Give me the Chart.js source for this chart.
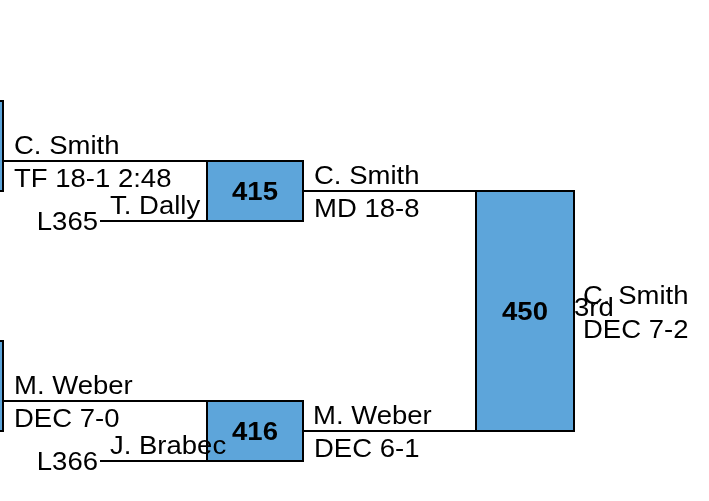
<!DOCTYPE html>
<html>
<head>
<meta charset="utf-8">
<script src="https://cdn.jsdelivr.net/npm/chart.js@4/dist/chart.umd.min.js"></script>
<style>
  html, body { margin: 0; padding: 0; background: #ffffff; }
  #wrap { width: 709px; height: 501px; position: relative; }
</style>
</head>
<body>
<div id="wrap"><canvas id="c"></canvas></div>
<script>
// ---------------- DATA ----------------
// Matches shown in this bracket section
const matchIds      = ['415', '416', '450'];
const matchRound    = [1, 1, 2];            // bracket column
const topSlot       = [0, 8, 1];            // slot of top entrant line
const bottomSlot    = [2, 10, 9];           // slot of bottom entrant line
// Entrants
const topNames      = ['C. Smith', 'M. Weber', 'C. Smith'];
const topResults    = ['TF 18-1 2:48', 'DEC 7-0', 'MD 18-8'];
const bottomNames   = ['T. Dally', 'J. Brabec', 'M. Weber'];
const bottomResults = ['', '', 'DEC 6-1'];
const bottomSources = ['L365', 'L366', ''];  // loser drop-in labels
// Final outcome
const finalWinner   = 'C. Smith';
const finalResult   = 'DEC 7-2';
const finalPlace    = '3rd';
// Partially visible feeder matches in the previous column (slot ranges)
const feederTop     = [-2, 6];
const feederBottom  = [1, 9];

// ---------------- LAYOUT ----------------
const X_MIN = 0, X_MAX = 709;
const SLOT_PX = 30;
const Y_MIN = -161 / SLOT_PX, Y_MAX = Y_MIN + 501 / SLOT_PX;
const boxLeft  = { 0: -60, 1: 207, 2: 476 };
const boxRight = { 0: 3,   1: 303, 2: 574 };
const dropInStart = 100;              // start of loser drop-in lines
const BLUE = '#5DA5DA';
const INK  = '#000000';
const FONT = '"Liberation Sans", Arial, Helvetica, sans-serif';
const FONT_PX = 25, STRETCH = 1.1;

// ---------------- DATASETS ----------------
const datasets = [];
function seg(x1, y1, x2, y2) {
  datasets.push({ type: 'line', data: [{x: x1, y: y1}, {x: x2, y: y2}],
    borderColor: INK, borderWidth: 2, pointRadius: 0, fill: false, tension: 0 });
}
function box(x1, y1, x2, y2) {
  datasets.push({ type: 'line',
    data: [{x: x1, y: y1}, {x: x2, y: y1}, {x: x2, y: y2}, {x: x1, y: y2}, {x: x1, y: y1}],
    borderColor: INK, borderWidth: 2, backgroundColor: BLUE, pointRadius: 0,
    fill: 'shape', tension: 0 });
}
// lines first
for (let i = 0; i < matchIds.length; i++) {
  const r = matchRound[i];
  const topStart = boxRight[r - 1];
  const botStart = bottomSources[i] ? dropInStart : boxRight[r - 1];
  seg(topStart, topSlot[i], boxLeft[r], topSlot[i]);
  seg(botStart, bottomSlot[i], boxLeft[r], bottomSlot[i]);
}
// feeder boxes (previous column, clipped)
for (let k = 0; k < feederTop.length; k++) box(boxLeft[0], feederTop[k], boxRight[0], feederBottom[k]);
// match boxes
for (let i = 0; i < matchIds.length; i++) {
  const r = matchRound[i];
  box(boxLeft[r], topSlot[i], boxRight[r], bottomSlot[i]);
}

// ---------------- TEXT PLUGIN ----------------
const textPlugin = {
  id: 'bracketText',
  afterDatasetsDraw(chart) {
    const ctx = chart.ctx;
    const xs = chart.scales.x, ys = chart.scales.y;
    const px = v => xs.getPixelForValue(v);
    const py = v => ys.getPixelForValue(v);
    function txt(s, x, y, align, bold) {
      if (!s) return;
      ctx.save();
      ctx.font = (bold ? 'bold ' : '') + FONT_PX + 'px ' + FONT;
      ctx.fillStyle = INK;
      ctx.textBaseline = 'alphabetic';
      ctx.textAlign = align || 'left';
      ctx.translate(x, y);
      ctx.scale(STRETCH, 1);
      ctx.fillText(s, 0, 0);
      ctx.restore();
    }
    for (let i = 0; i < matchIds.length; i++) {
      const r = matchRound[i];
      const tY = py(topSlot[i]), bY = py(bottomSlot[i]);
      const topStart = px(boxRight[r - 1]);
      const botStart = bottomSources[i] ? px(dropInStart) : px(boxRight[r - 1]);
      txt(topNames[i], topStart + 11, tY - 7);
      txt(topResults[i], topStart + 11, tY + 26);
      txt(bottomNames[i], botStart + 10, bY - 7);
      txt(bottomResults[i], botStart + 11, bY + 26);
      if (bottomSources[i]) txt(bottomSources[i], px(dropInStart) - 2, bY + 9, 'right');
      const cx = (px(boxLeft[r]) + px(boxRight[r])) / 2;
      const cy = (tY + bY) / 2;
      txt(matchIds[i], cx, cy + 9, 'center', true);
    }
    // final outcome next to the last match
    const last = matchIds.length - 1;
    const rr = px(boxRight[matchRound[last]]);
    const my = (py(topSlot[last]) + py(bottomSlot[last])) / 2;
    txt(finalWinner, rr + 9, my - 7);
    txt(finalResult, rr + 9, my + 27);
    txt(finalPlace, rr, my + 5);
  }
};

new Chart(document.getElementById('c'), {
  type: 'scatter',
  data: { datasets },
  options: {
    responsive: true,
    maintainAspectRatio: false,
    animation: false,
    layout: { padding: 0 },
    plugins: { legend: { display: false }, tooltip: { enabled: false } },
    events: [],
    scales: {
      x: { type: 'linear', min: X_MIN, max: X_MAX, display: false },
      y: { type: 'linear', min: Y_MIN, max: Y_MAX, reverse: true, display: false }
    }
  },
  plugins: [textPlugin]
});
</script>
</body>
</html>
